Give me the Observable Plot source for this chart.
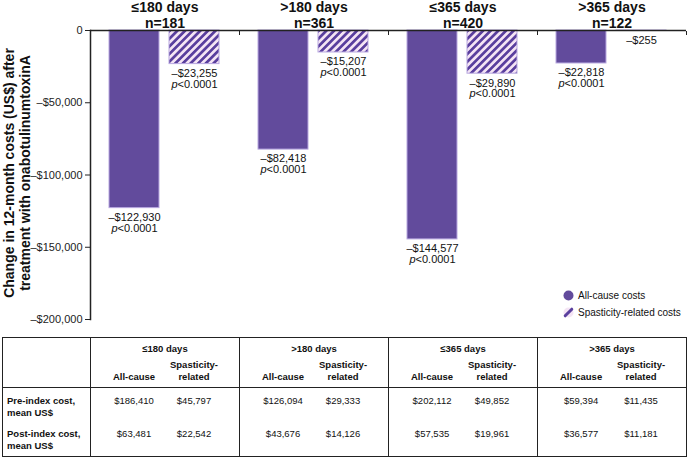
<!DOCTYPE html>
<html>
<head>
<meta charset="utf-8">
<script src="https://cdn.jsdelivr.net/npm/d3@7"></script>
<script src="https://cdn.jsdelivr.net/npm/@observablehq/plot@0.6"></script>
<style>
  html, body { margin: 0; padding: 0; background: #fff; }
  #wrap { position: relative; width: 687px; height: 457px; font-family: Arial, "Liberation Sans", Helvetica, sans-serif; color: #111; overflow: hidden; }
  #chart { position: absolute; left: 0; top: 0; }
  #legend { position: absolute; left: 563px; top: 287px; font-size: 10px; line-height: 17px; }
  #legend .item { display: flex; align-items: center; height: 17px; }
  #legend svg { margin-right: 4px; }
  table.tbl { position: absolute; left: 2px; top: 337px; width: 684px; table-layout: fixed; border-collapse: collapse; border: 1.5px solid #222; font-size: 9.5px; line-height: 12px; }
  table.tbl td { padding: 0; border: none; }
  table.tbl td.rl { border-right: 1.5px solid #222; text-align: left; padding-left: 4px; font-weight: bold; vertical-align: top; }
  table.tbl td.gl { border-left: 1.5px solid #222; }
  table.tbl tr.h1 td { height: 19px; vertical-align: top; padding-top: 5px; box-sizing: border-box; }
  table.tbl tr.h1 td.g { text-align: center; font-weight: bold; }
  table.tbl tr.h2 td { height: 31px; vertical-align: bottom; padding-bottom: 4px; box-sizing: border-box; font-weight: bold; border-bottom: 1.5px solid #222; }
  table.tbl tr.h1 td.rl { border-bottom: 1.5px solid #222; }
  table.tbl td.c1 { text-align: center; padding-left: 12px; }
  table.tbl td.c2 { text-align: center; padding-right: 16px; }
  table.tbl tr.r1 td { height: 33px; vertical-align: top; padding-top: 7px; box-sizing: border-box; }
  table.tbl tr.r2 td { height: 36px; vertical-align: top; padding-top: 7px; box-sizing: border-box; }
</style>
</head>
<body>
<div id="wrap">
  <div id="chart"></div>
  <div id="legend"></div>
</div>
<script>
// ---- data ----
const groups = ["≤180 days", ">180 days", "≤365 days", ">365 days"];
const groupN = [181, 361, 420, 122];
const types = ["All-cause", "Spasticity-related"];
const allCauseChange = [-122930, -82418, -144577, -22818];
const spasticityChange = [-23255, -15207, -29890, -255];
const allCauseP = ["p<0.0001", "p<0.0001", "p<0.0001", "p<0.0001"];
const spasticityP = ["p<0.0001", "p<0.0001", "p<0.0001", ""];
const yTicks = [0, -50000, -100000, -150000, -200000];
const yTitle = "Change in 12-month costs (US$) after\ntreatment with onabotulinumtoxinA";
const legendLabels = ["All-cause costs", "Spasticity-related costs"];
const rowLabels = ["Pre-index cost,\nmean US$", "Post-index cost,\nmean US$"];
const subHeaders = ["All-cause", "Spasticity-\nrelated"];
const preAllCause = [186410, 126094, 202112, 59394];
const preSpasticity = [45797, 29333, 49852, 11435];
const postAllCause = [63481, 43676, 57535, 36577];
const postSpasticity = [22542, 14126, 19961, 11181];

// ---- build rows ----
const solidRows = groups.map((g, i) => ({group: g, type: types[0], value: allCauseChange[i], p: allCauseP[i]}));
const hatchRows = groups.map((g, i) => ({group: g, type: types[1], value: spasticityChange[i], p: spasticityP[i]}));
const allRows = solidRows.concat(hatchRows);

const comma = d3.format(",");
const money = v => (v < 0 ? "\u2013$" : "$") + comma(Math.abs(v));
const tickFmt = v => v === 0 ? "0" : money(v);

const W = 687, ML = 90, MR = 1;
const bw = (W - ML - MR) / groups.length;

const PURPLE = "#624b9c";
const PINK = "#f4e4f4";
const EDGE = "#b8a8e0";

const plot = Plot.plot({
  width: W,
  height: 325,
  marginTop: 30,
  marginBottom: 6,
  marginLeft: ML,
  marginRight: MR,
  style: {fontFamily: "Arial, 'Liberation Sans', Helvetica, sans-serif", fontSize: "11px", color: "#222", overflow: "visible", background: "transparent"},
  fx: {domain: groups, padding: 0, axis: null, label: null},
  x: {domain: types, paddingInner: 0.165, paddingOuter: 0.314, axis: null},
  y: {domain: [-200000, 0], ticks: yTicks, tickFormat: tickFmt, label: null, tickSize: 5, tickPadding: 3},
  marks: [
    Plot.barY(solidRows, {fx: "group", x: "type", y: "value", fill: PURPLE, stroke: EDGE, strokeWidth: 1}),
    Plot.barY(hatchRows, {fx: "group", x: "type", y: "value", fill: "url(#hatch)", stroke: EDGE, strokeWidth: 1}),
    Plot.frame({anchor: "left", facetAnchor: "left", stroke: "#222", strokeWidth: 1.5}),
    Plot.ruleY([0], {stroke: "#222", strokeWidth: 1.5}),
    Plot.axisFx({anchor: "top", tickSize: -4, tickFormat: () => null, label: null, dx: bw / 2, stroke: "#222"}),
    Plot.text(allRows, {fx: "group", x: "type", y: "value", text: d => money(d.value) + (d.p ? "\n" + d.p : ""), lineAnchor: "top", dy: 5, fontSize: 11, fill: "#111"}),
    Plot.text(groups, {fx: d => d, text: (d, i) => `${d}\nn=${groupN[i]}`, frameAnchor: "top", lineAnchor: "bottom", dy: -3, fontSize: 14, fontWeight: "bold", lineHeight: 1.08, fill: "#111"}),
    Plot.text([groups[0]], {fx: d => d, frameAnchor: "left", textAnchor: "middle", text: () => yTitle, rotate: -90, dx: -74, dy: -2, fontSize: 14, fontWeight: "bold", lineHeight: 1.15, lineAnchor: "middle", fill: "#111"})
  ]
});

// hatch pattern
const ns = "http://www.w3.org/2000/svg";
const svgSel = d3.select(plot.tagName.toLowerCase() === "svg" ? plot : plot.querySelector("svg"));
const defs = svgSel.insert("defs", ":first-child");
const pat = defs.append("pattern").attr("id", "hatch").attr("patternUnits", "userSpaceOnUse")
  .attr("width", 5.4).attr("height", 5.4).attr("patternTransform", "rotate(45)");
pat.append("rect").attr("width", 5.4).attr("height", 5.4).attr("fill", PINK);
pat.append("rect").attr("width", 2.7).attr("height", 5.4).attr("fill", "#5a3f9e");

// italic p in p-values
plot.querySelectorAll("tspan, text").forEach(t => {
  if (t.childElementCount === 0 && /^p<0\.0001$/.test(t.textContent)) {
    t.textContent = "";
    const a = document.createElementNS(ns, "tspan");
    a.setAttribute("font-style", "italic");
    a.textContent = "p";
    const b = document.createElementNS(ns, "tspan");
    b.textContent = "<0.0001";
    t.appendChild(a); t.appendChild(b);
  }
});

document.getElementById("chart").appendChild(plot);

// legend
const legend = document.getElementById("legend");
const markers = [
  `<svg width="11" height="11"><circle cx="5.5" cy="5.5" r="5" fill="${PURPLE}"/></svg>`,
  `<svg width="11" height="11"><circle cx="5.5" cy="5.5" r="5" fill="${PINK}"/><line x1="2.2" y1="8.8" x2="8.8" y2="2.2" stroke="#5a3f9e" stroke-width="3" stroke-linecap="round"/></svg>`
];
legendLabels.forEach((l, i) => {
  const div = document.createElement("div");
  div.className = "item";
  div.innerHTML = markers[i] + `<span>${l}</span>`;
  legend.appendChild(div);
});

// table
const br = s => s.replace("\n", "<br>");
let html = `<table class="tbl"><colgroup><col style="width:88px">`;
for (let i = 0; i < groups.length * 2; i++) html += `<col style="width:74.5px">`;
html += `</colgroup><tr class="h1"><td class="rl" rowspan="2"></td>`;
groups.forEach(g => { html += `<td class="g gl" colspan="2">${g}</td>`; });
html += `</tr><tr class="h2">`;
groups.forEach(() => { html += `<td class="c1 gl">${br(subHeaders[0])}</td><td class="c2">${br(subHeaders[1])}</td>`; });
html += `</tr>`;
const tableRows = [[preAllCause, preSpasticity], [postAllCause, postSpasticity]];
tableRows.forEach((pair, r) => {
  html += `<tr class="r${r + 1}"><td class="rl">${br(rowLabels[r])}</td>`;
  groups.forEach((g, i) => { html += `<td class="c1 gl">${money(pair[0][i])}</td><td class="c2">${money(pair[1][i])}</td>`; });
  html += `</tr>`;
});
html += `</table>`;
document.getElementById("wrap").insertAdjacentHTML("beforeend", html);
</script>
</body>
</html>
